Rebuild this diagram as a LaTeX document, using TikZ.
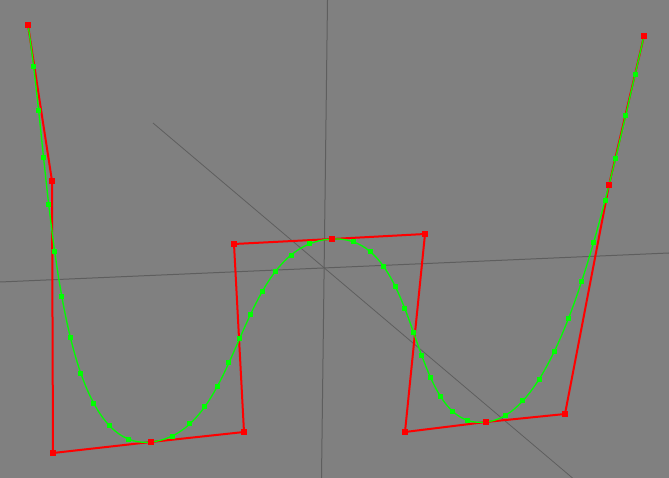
\documentclass[tikz,border=0pt]{standalone}
\usepackage{xcolor}
\usepackage{tikz}
\definecolor{bg}{HTML}{808080}
\definecolor{axisgray}{HTML}{5E5E5E}
\definecolor{ctrl}{HTML}{FF0000}
\definecolor{crv}{HTML}{00FF00}

\begin{document}
\begin{tikzpicture}[
  x=1pt,y=-1pt,
  axisline/.style={draw=axisgray,line width=1pt},
  ctrlline/.style={draw=ctrl,line width=2pt,line join=miter},
  curveline/.style={draw=crv,line width=1.3pt},
  ctrlpt/.style={fill=ctrl,draw=none,inner sep=0pt,minimum size=6pt},
  curvept/.style={fill=crv,draw=none,inner sep=0pt,minimum size=5pt}
]
\fill[bg] (0,0) rectangle (669,478);
\useasboundingbox (0,0) rectangle (669,478);

% axes
\coordinate (xa) at (0,282);
\coordinate (xb) at (669,253);
\coordinate (ya) at (327.5,0);
\coordinate (yb) at (321.5,478);
\coordinate (za) at (153,123);
\coordinate (zb) at (572.5,478);
\draw[axisline] (xa) -- (xb);
\draw[axisline] (ya) -- (yb);
\draw[axisline,line width=0.8pt] (za) -- (zb);

% control points
\foreach \n/\x/\y in {0/28/25,1/52/181,2/53/453,3/151/442,4/244/432,5/234/244,
  6/332/239,7/425/234,8/405/432,9/486/422,10/565/414,11/609/185,12/644/36}
  \coordinate (p\n) at (\x,\y);

% control polygon
\draw[ctrlline] (p0) \foreach \n in {1,...,12}{ -- (p\n)};

% composite Bezier curve
\draw[curveline] (p0) .. controls (p1) and (p2) .. (p3)
  .. controls (p4) and (p5) .. (p6)
  .. controls (p7) and (p8) .. (p9)
  .. controls (p10) and (p11) .. (p12);

% samples on each segment
\foreach \k in {0,...,3}
  \foreach \t in {0,...,11} {
    \pgfmathtruncatemacro\ia{3*\k}
    \pgfmathtruncatemacro\ib{3*\k+1}
    \pgfmathtruncatemacro\ic{3*\k+2}
    \pgfmathtruncatemacro\id{3*\k+3}
    \pgfmathsetmacro\tp{\t/12}
    \path (p\ia) .. controls (p\ib) and (p\ic) .. (p\id)
      node[curvept,pos=\tp] (s\k-\t) {};
  }

% control point markers
\foreach \n in {0,...,12}
  \node[ctrlpt] (c\n) at (p\n) {};
\end{tikzpicture}
\end{document}
